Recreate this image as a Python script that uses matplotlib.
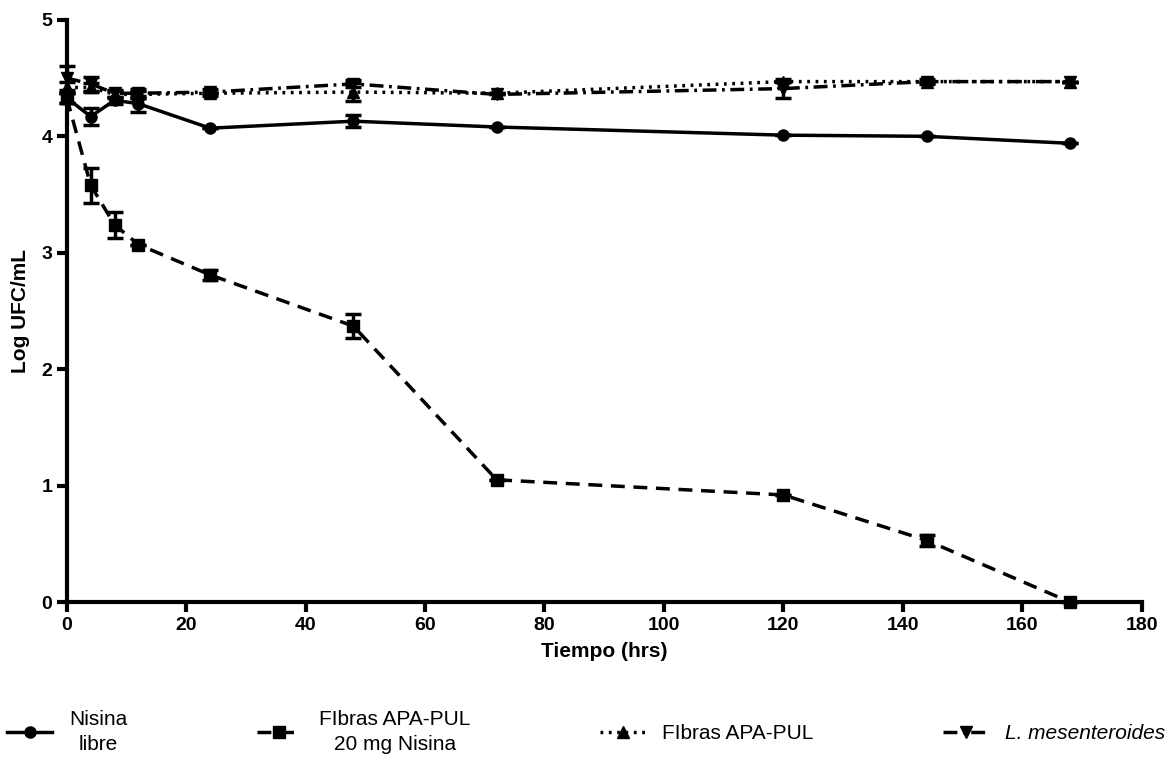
import matplotlib
matplotlib.use("Agg")
import matplotlib.pyplot as plt
from matplotlib.lines import Line2D
import numpy as np

plt.rcParams["font.family"] = ["Liberation Sans", "DejaVu Sans"]

tiempo = [0, 4, 8, 12, 24, 48, 72, 120, 144, 168]

nisina_libre = [4.33, 4.17, 4.31, 4.28, 4.07, 4.13, 4.08, 4.01, 4.00, 3.94]
nisina_libre_err = [0.04, 0.07, 0.03, 0.07, 0.0, 0.05, 0.0, 0.0, 0.0, 0.0]

fibras_nisina = [4.33, 3.58, 3.24, 3.07, 2.81, 2.37, 1.05, 0.92, 0.53, 0.0]
fibras_nisina_err = [0.04, 0.15, 0.11, 0.0, 0.04, 0.10, 0.0, 0.0, 0.05, 0.0]

fibras = [4.42, 4.42, 4.36, 4.36, 4.37, 4.38, 4.37, 4.47, 4.47, 4.47]
fibras_err = [0.05, 0.04, 0.03, 0.03, 0.0, 0.08, 0.0, 0.0, 0.0, 0.0]

mesenteroides = [4.50, 4.45, 4.37, 4.37, 4.38, 4.45, 4.36, 4.41, 4.47, 4.47]
mesenteroides_err = [0.10, 0.06, 0.03, 0.04, 0.03, 0.03, 0.0, 0.08, 0.02, 0.0]

labels = ["Nisina\nlibre", "FIbras APA-PUL\n20 mg Nisina", "FIbras APA-PUL",
          "L. mesenteroides"]


fig = plt.figure(figsize=(11.72, 7.65), dpi=100)
ax = fig.add_axes([0.057, 0.213, 0.917, 0.761])

styles = [
    ("o", "-"),
    ("s", (0, (4, 2.5))),
    ("^", (0, (0.8, 1.6))),
    ("v", (0, (4, 1.6, 0.8, 1.6))),
]
data = [
    (nisina_libre, nisina_libre_err),
    (fibras_nisina, fibras_nisina_err),
    (fibras, fibras_err),
    (mesenteroides, mesenteroides_err),
]

handles = []
for (vals, err), (marker, ls) in zip(data, styles):
    ax.errorbar(tiempo, vals, yerr=err, color="black", marker=marker,
                markersize=8, linestyle=ls, linewidth=2.5, capsize=6,
                capthick=2.5, elinewidth=2.5, clip_on=False)
    handles.append(Line2D([], [], color="black", marker=marker, markersize=8,
                          linestyle=ls, linewidth=2.5))

ax.set_xlim(0, 180)
ax.set_ylim(0, 5)
ax.set_xticks(np.arange(0, 181, 20))
ax.set_yticks(np.arange(0, 6, 1))
ax.spines["top"].set_visible(False)
ax.spines["right"].set_visible(False)
ax.spines["left"].set_linewidth(3)
ax.spines["bottom"].set_linewidth(3)
ax.tick_params(width=3, length=7, labelsize=14)
for lab in ax.get_xticklabels() + ax.get_yticklabels():
    lab.set_fontweight("bold")

ax.set_xlabel("Tiempo (hrs)", fontsize=15, fontweight="bold", labelpad=6)
ax.set_ylabel("Log UFC/mL", fontsize=15, fontweight="bold", labelpad=8)

leg = fig.legend(handles=handles, labels=labels, loc="lower center", ncol=4,
                 frameon=False, fontsize=15, bbox_to_anchor=(0.5, -0.01),
                 columnspacing=6.2, handlelength=2.2)
for t in leg.get_texts():
    t.set_multialignment("center")
    t.set_linespacing(1.4)
leg.get_texts()[3].set_fontstyle("italic")

fig.savefig("out.png", dpi=100)
